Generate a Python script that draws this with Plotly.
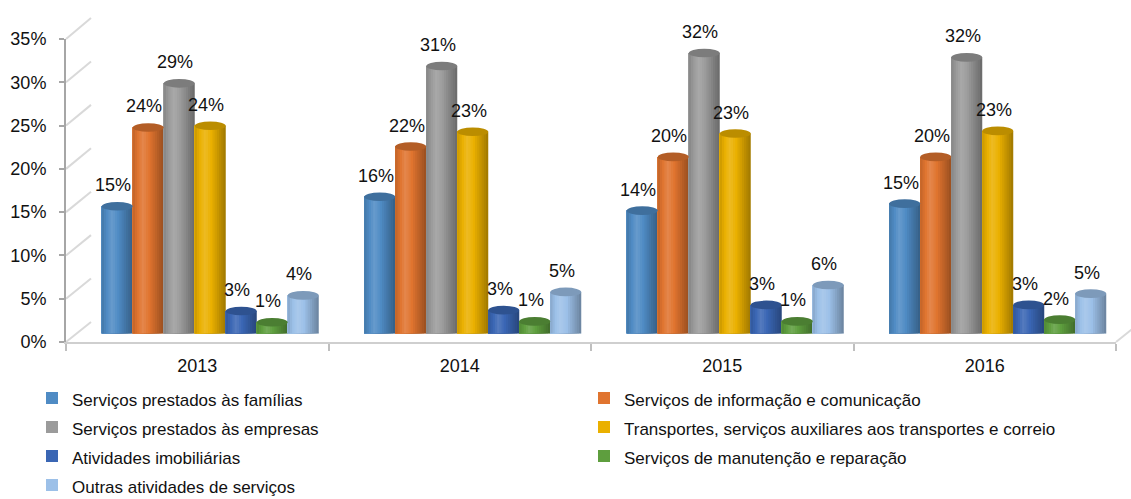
import plotly.graph_objects as go

# ---------------------------------------------------------------- data
years = ["2013", "2014", "2015", "2016"]

series_names = [
    "Serviços prestados às famílias",
    "Serviços de informação e comunicação",
    "Serviços prestados às empresas",
    "Transportes, serviços auxiliares aos transportes e correio",
    "Atividades imobiliárias",
    "Serviços de manutenção e reparação",
    "Outras atividades de serviços",
]

familias = [14.7, 15.8, 14.2, 15.0]
informacao = [23.8, 21.6, 20.4, 20.4]
empresas = [28.9, 30.9, 32.4, 31.9]
transportes = [24.0, 23.3, 23.1, 23.4]
imobiliarias = [2.6, 2.7, 3.3, 3.3]
manutencao = [1.3, 1.4, 1.4, 1.6]
outras = [4.4, 4.8, 5.6, 4.6]

y_ticks = [0, 5, 10, 15, 20, 25, 30, 35]

series_values = [familias, informacao, empresas, transportes,
                 imobiliarias, manutencao, outras]
series_colors = ["#4f8bc4", "#e0742f", "#9b9b9b", "#eab000",
                 "#3a66b4", "#5e9e3e", "#9cc0e8"]

# ---------------------------------------------------------------- layout geometry (pixels)
W, H = 1131, 499
FONT = "Liberation Sans, Arial, sans-serif"
TEXT_SIZE = 18
LEGEND_TEXT_SIZE = 17
GRID = "#d9d9d9"
YMAX = 35

BACK_X = (91, 1131)
BACK_Y = (322, 18)      # (value 0, value 35)
BARS_X = (79, 1129)
BARS_Y = (333.5, 30.5)
FRONT_X = (66, 1116)
FRONT_Y = (342, 39)


def fx(p):
    return p / W


def fy(p):
    return 1 - p / H


def val_to_px(v, rng):
    return rng[0] + (rng[1] - rng[0]) * v / YMAX


def shade(hex_color, f):
    h = hex_color.lstrip("#")
    r, g, b = (int(h[i:i + 2], 16) for i in (0, 2, 4))
    if f >= 1:
        t = f - 1
        r, g, b = (c + (255 - c) * t for c in (r, g, b))
    else:
        r, g, b = (c * f for c in (r, g, b))
    return "rgb(%d,%d,%d)" % tuple(max(0, min(255, round(c))) for c in (r, g, b))


def cylinder_light(t):
    # brightness profile across a cylinder (left -> right)
    if t < 0.33:
        return 0.86 + (1.14 - 0.86) * t / 0.33
    return 1.14 - (1.14 - 0.68) * (t - 0.33) / 0.67


fig = go.Figure()

n_series = len(series_names)
bar_w = 31 / ((BARS_X[1] - BARS_X[0]) / len(years))
cats = list(range(len(years)))
N_STRIPS = 14

# legend entries
for name, col in zip(series_names, series_colors):
    fig.add_trace(go.Bar(x=[None], y=[None],
                         name=f'<span style="font-size:{LEGEND_TEXT_SIZE}px">{name}</span>',
                         marker_color=col, marker_line_width=0,
                         xaxis="x2", yaxis="y2", showlegend=True))

shapes = []
annotations = []

for i, (name, vals, col) in enumerate(zip(series_names, series_values, series_colors)):
    off = (i - (n_series - 1) / 2) * bar_w
    lefts = [c + off - bar_w / 2 for c in cats]
    # shaded cylinder body: widest strip first, each narrower strip covers the left part
    for k in range(N_STRIPS - 1, -1, -1):
        frac = (k + 1) / N_STRIPS
        fig.add_trace(go.Bar(
            x=[l + frac * bar_w / 2 for l in lefts],
            y=vals,
            width=frac * bar_w,
            marker=dict(color=shade(col, cylinder_light((k + 0.5) / N_STRIPS)),
                        line=dict(width=0)),
            xaxis="x2", yaxis="y2", showlegend=False, hoverinfo="skip",
        ))
    for l, v in zip(lefts, vals):
        # rounded bottom
        shapes.append(dict(type="circle", xref="x2", yref="y2", layer="between",
                           x0=l, x1=l + bar_w, y0=-0.5, y1=0.5,
                           fillcolor=shade(col, 0.8), line_width=0))
        # top cap
        shapes.append(dict(type="circle", xref="x2", yref="y2", layer="above",
                           x0=l, x1=l + bar_w, y0=v - 0.5, y1=v + 0.5,
                           fillcolor=shade(col, 0.8), line_width=0))
        annotations.append(dict(x=l + bar_w / 2, y=v, xref="x2", yref="y2",
                                text=f"{round(v)}%", showarrow=False,
                                yanchor="bottom", yshift=9, xshift=-4,
                                font=dict(family=FONT, size=TEXT_SIZE, color="#111111")))

# side wall lines joining the front axis to the back wall
for v in y_ticks:
    shapes.append(dict(type="line", xref="paper", yref="paper", layer="below",
                       x0=fx(FRONT_X[0]), y0=fy(val_to_px(v, FRONT_Y)),
                       x1=fx(BACK_X[0]), y1=fy(val_to_px(v, BACK_Y)),
                       line=dict(color=GRID, width=2)))
# right edge of the floor
shapes.append(dict(type="line", xref="paper", yref="paper", layer="below",
                   x0=fx(FRONT_X[1]), y0=fy(FRONT_Y[0]),
                   x1=fx(FRONT_X[1] + 25), y1=fy(BACK_Y[0]),
                   line=dict(color=GRID, width=2)))

fig.update_layout(
    width=W, height=H,
    margin=dict(l=0, r=0, t=0, b=0, pad=0, autoexpand=False),
    paper_bgcolor="white",
    plot_bgcolor="rgba(0,0,0,0)",
    barmode="overlay",
    font=dict(family=FONT, size=TEXT_SIZE, color="#111111"),
    shapes=shapes,
    annotations=annotations,
    # back wall with gridlines
    xaxis=dict(domain=[fx(BACK_X[0]), fx(BACK_X[1])], range=[0, 1], visible=False,
               anchor="y", automargin=False),
    yaxis=dict(domain=[fy(BACK_Y[0]), fy(BACK_Y[1])], range=[0, YMAX], anchor="x",
               tickvals=y_ticks, showticklabels=False, showgrid=True, automargin=False,
               gridcolor=GRID, gridwidth=2, zeroline=False, showline=False),
    # bars
    xaxis2=dict(domain=[fx(BARS_X[0]), fx(BARS_X[1])], range=[-0.5, len(years) - 0.5],
                visible=False, anchor="y2", automargin=False),
    yaxis2=dict(domain=[fy(BARS_Y[0]), fy(BARS_Y[1])], range=[0, YMAX],
                visible=False, anchor="x2", automargin=False),
    # front axes with labels
    xaxis3=dict(domain=[fx(FRONT_X[0]), fx(FRONT_X[1])], range=[-0.5, len(years) - 0.5],
                anchor="y3", tickvals=cats, ticktext=years, ticks="", automargin=False,
                showline=True, linecolor="#cfcfcf", linewidth=2, showgrid=False,
                zeroline=False, tickfont=dict(size=TEXT_SIZE), ticklabelstandoff=6,
                minor=dict(tickvals=[c - 0.5 for c in cats] + [len(years) - 0.5],
                           ticks="outside", ticklen=7, tickcolor="#bfbfbf",
                           tickwidth=1.5, showgrid=False)),
    yaxis3=dict(domain=[fy(FRONT_Y[0]), fy(FRONT_Y[1])], range=[0, YMAX], anchor="x3",
                tickvals=y_ticks, ticktext=[f"{t}%" for t in y_ticks], automargin=False,
                ticks="outside", ticklen=5, tickcolor="#a6a6a6", tickwidth=1.5,
                showline=True, linecolor="#a6a6a6", linewidth=2, showgrid=False,
                zeroline=False, tickfont=dict(size=TEXT_SIZE), ticklabelstandoff=9),
    legend=dict(orientation="h", x=fx(32), y=-5.5 / H, xanchor="left", yanchor="bottom",
                entrywidth=507, font=dict(size=20), traceorder="normal",
                bgcolor="rgba(0,0,0,0)"),
    showlegend=True,
)

# invisible trace so the front axes are drawn
fig.add_trace(go.Scatter(x=[None], y=[None], xaxis="x3", yaxis="y3",
                         showlegend=False, hoverinfo="skip"))

fig.write_html("out.html")
